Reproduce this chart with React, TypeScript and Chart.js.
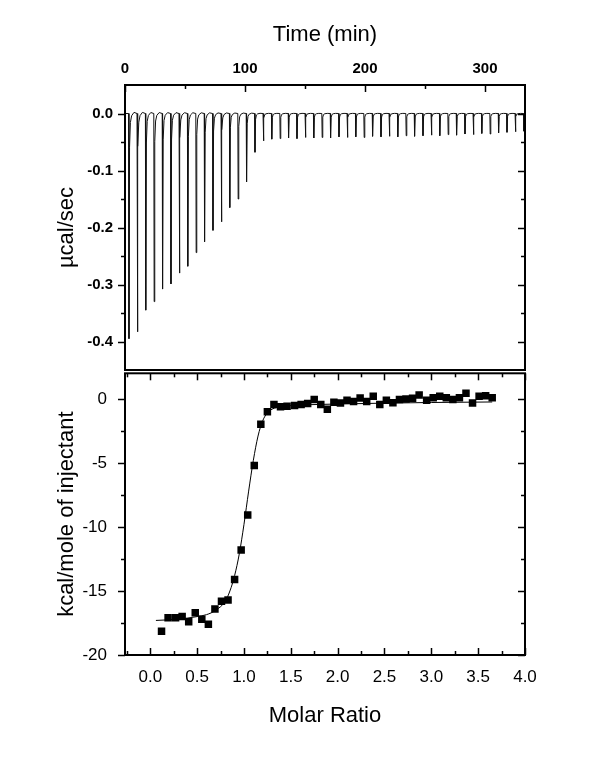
import React, { useEffect, useRef } from "react";
import { Chart, registerables } from "chart.js";
Chart.register(...registerables);

const FONT = "'Liberation Sans', Arial, Helvetica, sans-serif";

// ---- Top panel (raw thermogram) ----
const injectionTimes = [3, 10, 17, 24, 31, 38, 45, 52, 59, 66, 73, 80, 87, 94, 101, 108, 115, 122, 129, 136, 143, 150, 157, 164, 171, 178, 185, 192, 199, 206, 213, 220, 227, 234, 241, 248, 255, 262, 269, 276, 283, 290, 297, 304, 311, 318, 325, 332];
const peakDepths = [-0.395, -0.383, -0.345, -0.330, -0.308, -0.299, -0.280, -0.268, -0.244, -0.225, -0.205, -0.190, -0.165, -0.150, -0.120, -0.068, -0.048, -0.045, -0.044, -0.043, -0.044, -0.042, -0.043, -0.042, -0.043, -0.041, -0.042, -0.041, -0.042, -0.040, -0.041, -0.040, -0.041, -0.039, -0.040, -0.039, -0.038, -0.039, -0.037, -0.038, -0.036, -0.037, -0.035, -0.036, -0.034, -0.033, -0.032, -0.031];
// peak profile (minutes after injection, fraction of peak depth)
const peakShapeOffsets = [0, 0.3, 0.8, 1.5, 2.5, 4.5];
const peakShapeFractions = [0, 1, 0.15, 0.04, 0.01, -0.005];
const timeMajorTicks = [0, 100, 200, 300];
const timeMinorTicks = [50, 150, 250];
const powerMajorTicks = [-0.4, -0.3, -0.2, -0.1, 0.0];
const powerMinorTicks = [-0.35, -0.25, -0.15, -0.05];

// ---- Bottom panel (integrated heats) ----
const molarRatio = [0.12, 0.19, 0.27, 0.34, 0.41, 0.48, 0.55, 0.62, 0.69, 0.76, 0.83, 0.90, 0.97, 1.04, 1.11, 1.18, 1.25, 1.32, 1.39, 1.46, 1.54, 1.61, 1.68, 1.75, 1.82, 1.89, 1.96, 2.03, 2.10, 2.17, 2.24, 2.31, 2.38, 2.45, 2.52, 2.59, 2.66, 2.73, 2.80, 2.87, 2.95, 3.02, 3.09, 3.16, 3.23, 3.30, 3.37, 3.44, 3.51, 3.58, 3.65];
const heatPerMole = [-18.15, -17.1, -17.1, -17.0, -17.4, -16.7, -17.2, -17.6, -16.4, -15.8, -15.7, -14.1, -11.8, -9.06, -5.2, -1.98, -1.0, -0.44, -0.62, -0.57, -0.52, -0.44, -0.36, -0.05, -0.44, -0.80, -0.26, -0.31, -0.1, -0.2, 0.08, -0.2, 0.2, -0.44, -0.1, -0.3, -0.05, 0.0, 0.05, 0.3, -0.1, 0.1, 0.2, 0.1, -0.05, 0.1, 0.45, -0.31, 0.2, 0.25, 0.1];
const fitRatio = [0.06, 0.3, 0.5, 0.6, 0.7, 0.8, 0.85, 0.9, 0.95, 1.0, 1.05, 1.1, 1.15, 1.2, 1.25, 1.3, 1.4, 1.5, 1.7, 2.0, 2.5, 3.0, 3.65];
const fitHeat = [-17.3, -17.2, -17.0, -16.85, -16.5, -15.8, -15.0, -13.8, -12.1, -9.8, -7.2, -4.8, -2.9, -1.7, -1.1, -0.8, -0.6, -0.52, -0.45, -0.4, -0.33, -0.28, -0.24];
const ratioMajorTicks = [0, 0.5, 1.0, 1.5, 2.0, 2.5, 3.0, 3.5, 4.0];
const ratioMinorTicks = [-0.25, 0.25, 0.75, 1.25, 1.75, 2.25, 2.75, 3.25, 3.75];
const heatMajorTicks = [0, -5, -10, -15, -20];
const heatMinorTicks = [-2.5, -7.5, -12.5, -17.5];

type Side = { edge: "top" | "bottom" | "left" | "right"; scale: string; major: number[]; minor: number[]; dir: "in" | "out" };

function makeFramePlugin(sides: Side[]) {
  return {
    id: "frameTicks",
    afterDraw(chart: any) {
      const { ctx, chartArea } = chart;
      const { left, right, top, bottom } = chartArea;
      ctx.save();
      ctx.strokeStyle = "#000";
      ctx.lineWidth = 2;
      ctx.strokeRect(left, top, right - left, bottom - top);
      ctx.lineWidth = 1.5;
      for (const s of sides) {
        const scale = chart.scales[s.scale];
        const sign = s.dir === "in" ? 1 : -1;
        const draw = (v: number, len: number) => {
          const p = Math.round(scale.getPixelForValue(v)) + 0.5;
          ctx.beginPath();
          if (s.edge === "top") { ctx.moveTo(p, top); ctx.lineTo(p, top + sign * len); }
          else if (s.edge === "bottom") { ctx.moveTo(p, bottom); ctx.lineTo(p, bottom - sign * len); }
          else if (s.edge === "left") { ctx.moveTo(left, p); ctx.lineTo(left + sign * len, p); }
          else { ctx.moveTo(right, p); ctx.lineTo(right - sign * len, p); }
          ctx.stroke();
        };
        s.major.forEach((v) => draw(v, 7));
        s.minor.forEach((v) => draw(v, 4));
      }
      ctx.restore();
    },
  };
}

const fixX = (h: number) => (s: any) => { s.height = h; s.paddingLeft = 0; s.paddingRight = 0; };
const fixY = (w: number) => (s: any) => { s.width = w; s.paddingTop = 0; s.paddingBottom = 0; };

export default function App() {
  const topRef = useRef<HTMLCanvasElement>(null);
  const botRef = useRef<HTMLCanvasElement>(null);

  useEffect(() => {
    const trace: { x: number; y: number }[] = [{ x: 0, y: 0 }];
    injectionTimes.forEach((t, i) => {
      peakShapeOffsets.forEach((o, k) => trace.push({ x: t + o, y: peakDepths[i] * peakShapeFractions[k] }));
    });
    trace.push({ x: 333.3, y: 0 });

    const topChart = new Chart(topRef.current!, {
      type: "line",
      data: {
        datasets: [
          { data: trace, borderColor: "#111", borderWidth: 1, pointRadius: 0, tension: 0, fill: false },
        ],
      },
      options: {
        animation: false,
        responsive: false,
        layout: { padding: { left: 0, right: 75, top: 0, bottom: 2 } },
        plugins: { legend: { display: false }, tooltip: { enabled: false } },
        scales: {
          x: {
            type: "linear",
            position: "top",
            min: 0,
            max: 333.3,
            afterBuildTicks: (s: any) => { s.ticks = timeMajorTicks.map((v) => ({ value: v })); },
            afterFit: fixX(85),
            grid: { display: false, drawTicks: false },
            border: { display: false },
            ticks: { color: "#000", font: { family: FONT, size: 15, weight: "bold" }, padding: 7, maxRotation: 0, autoSkip: false, callback: (v: any) => String(v) },
            title: { display: true, text: "Time (min)", color: "#000", font: { family: FONT, size: 22 }, padding: { top: 22, bottom: 0 } },
          },
          y: {
            type: "linear",
            min: -0.45,
            max: 0.05,
            afterBuildTicks: (s: any) => { s.ticks = powerMajorTicks.map((v) => ({ value: v })); },
            afterFit: fixY(125),
            grid: { display: false, drawTicks: false },
            border: { display: false },
            ticks: { color: "#000", font: { family: FONT, size: 15, weight: "bold" }, padding: 12, autoSkip: false, callback: (v: any) => Number(v).toFixed(1) },
            title: { display: true, text: "µcal/sec", color: "#000", font: { family: FONT, size: 22 }, padding: { top: 54, bottom: 0 } },
          },
        },
      } as any,
      plugins: [
        makeFramePlugin([
          { edge: "top", scale: "x", major: timeMajorTicks, minor: timeMinorTicks, dir: "in" },
          { edge: "left", scale: "y", major: powerMajorTicks, minor: powerMinorTicks, dir: "out" },
          { edge: "right", scale: "y", major: powerMajorTicks, minor: powerMinorTicks, dir: "in" },
        ]),
      ],
    });

    const botChart = new Chart(botRef.current!, {
      type: "scatter",
      data: {
        datasets: [
          {
            type: "line",
            data: fitRatio.map((x, i) => ({ x, y: fitHeat[i] })),
            borderColor: "#000",
            borderWidth: 1,
            pointRadius: 0,
            cubicInterpolationMode: "monotone",
            fill: false,
          },
          {
            type: "scatter",
            data: molarRatio.map((x, i) => ({ x, y: heatPerMole[i] })),
            backgroundColor: "#000",
            borderColor: "#000",
            borderWidth: 0,
            pointStyle: "rect",
            pointRadius: 5.3,
          },
        ],
      },
      options: {
        animation: false,
        responsive: false,
        layout: { padding: { left: 0, right: 75, top: 2, bottom: 0 } },
        plugins: { legend: { display: false }, tooltip: { enabled: false } },
        scales: {
          x: {
            type: "linear",
            position: "bottom",
            min: -0.27,
            max: 4.0,
            afterBuildTicks: (s: any) => { s.ticks = ratioMajorTicks.map((v) => ({ value: v })); },
            afterFit: fixX(121),
            grid: { display: false, drawTicks: false },
            border: { display: false },
            ticks: { color: "#000", font: { family: FONT, size: 17 }, padding: 12, maxRotation: 0, autoSkip: false, callback: (v: any) => Number(v).toFixed(1) },
            title: { display: true, text: "Molar Ratio", color: "#000", font: { family: FONT, size: 22 }, padding: { top: 0, bottom: 47 } },
          },
          y: {
            type: "linear",
            min: -20,
            max: 2,
            afterBuildTicks: (s: any) => { s.ticks = heatMajorTicks.map((v) => ({ value: v })); },
            afterFit: fixY(125),
            grid: { display: false, drawTicks: false },
            border: { display: false },
            ticks: { color: "#000", font: { family: FONT, size: 17 }, padding: 18, autoSkip: false, callback: (v: any) => String(v) },
            title: { display: true, text: "kcal/mole of injectant", color: "#000", font: { family: FONT, size: 22 }, padding: { top: 54, bottom: 0 } },
          },
        },
      } as any,
      plugins: [
        makeFramePlugin([
          { edge: "top", scale: "x", major: ratioMajorTicks, minor: ratioMinorTicks, dir: "in" },
          { edge: "bottom", scale: "x", major: ratioMajorTicks, minor: ratioMinorTicks, dir: "in" },
          { edge: "left", scale: "y", major: heatMajorTicks, minor: heatMinorTicks, dir: "out" },
          { edge: "right", scale: "y", major: heatMajorTicks, minor: heatMinorTicks, dir: "in" },
        ]),
      ],
    });

    return () => {
      topChart.destroy();
      botChart.destroy();
    };
  }, []);

  return (
    <div style={{ position: "absolute", left: 0, top: 0, width: 600, height: 776, background: "#fff" }}>
      <canvas ref={topRef} width={600} height={372} style={{ position: "absolute", left: 0, top: 0 }} />
      <canvas ref={botRef} width={600} height={408} style={{ position: "absolute", left: 0, top: 368 }} />
    </div>
  );
}
